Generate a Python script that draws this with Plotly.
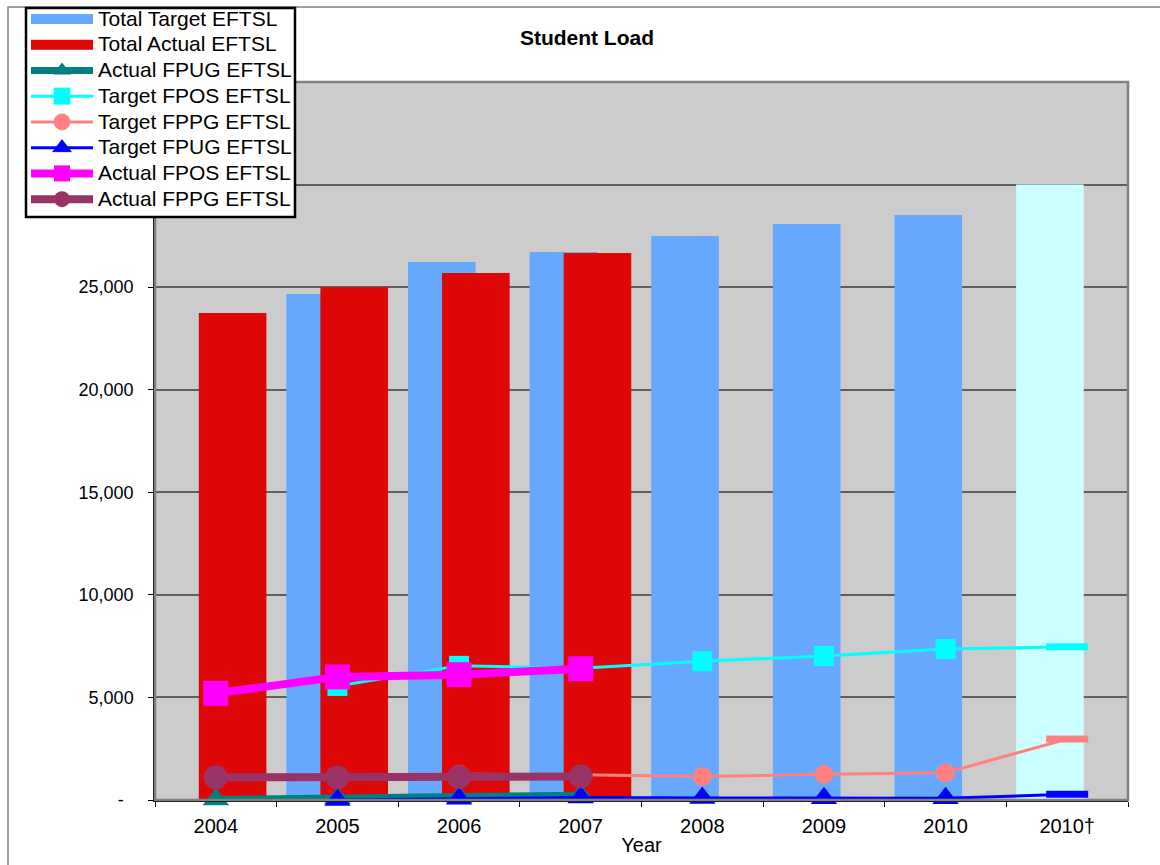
import plotly.graph_objects as go

# Student load (EFTSL) by year: totals as bars, breakdowns as lines
years = ["2004", "2005", "2006", "2007", "2008", "2009", "2010", "2010†"]

total_target = [None, 24670, 26230, 26710, 27490, 28080, 28520, 30000]
total_actual = [23740, 25000, 25690, 26670, None, None, None, None]

actual_fpug = [30, 80, 150, 230, None, None, None, None]
target_fpos = [None, 5560, 6540, 6420, 6760, 7020, 7360, 7470]
target_fppg = [None, 1150, 1250, 1230, 1140, 1250, 1330, 2970]
target_fpug = [None, 0, 60, 120, 100, 80, 80, 280]
actual_fpos = [5200, 6000, 6110, 6400, None, None, None, None]
actual_fppg = [1110, 1110, 1120, 1140, None, None, None, None]

y_ticks = [0, 5000, 10000, 15000, 20000, 25000, 30000, 35000]
# the two top labels sit under the legend box
y_tick_text = ["-\u00a0\u00a0", "5,000", "10,000", "15,000", "20,000", "25,000", "", ""]

C_TARGET = "#66A8FF"
C_TARGET_PROJ = "#CCFFFF"
C_ACTUAL = "#DD0806"
C_TEAL = "#008080"
C_CYAN = "#00FFFF"
C_SALMON = "#FF8080"
C_BLUE = "#0000FF"
C_MAGENTA = "#FF00FF"
C_PURPLE = "#993366"

FONT = "Liberation Sans, Arial, sans-serif"

# plot box in pixels (used only to place paper-referenced decorations)
W, H = 1160, 865
L, R, T, B = 155, 1128, 82, 800


def px_x(x):
    return (x - L) / (R - L)


def px_y(y):
    return (B - y) / (B - T)


def legend_label(text):
    # larger glyphs than the legend's row pitch font
    return '<span style="font-size:21px">' + text + "</span>"


fig = go.Figure()

bar_w = 0.556
target_colors = [C_TARGET] * (len(years) - 1) + [C_TARGET_PROJ]
fig.add_trace(go.Bar(
    x=years, y=total_target, name="Total Target EFTSL",
    marker=dict(color=target_colors, line=dict(width=0)),
    width=bar_w, offset=-0.42, showlegend=False,
))
fig.add_trace(go.Bar(
    x=years, y=total_actual, name="Total Actual EFTSL",
    marker=dict(color=C_ACTUAL, line=dict(width=0)),
    width=bar_w, offset=-0.14, showlegend=False,
))

# legend swatches for the bar series
for nm, col in [("Total Target EFTSL", C_TARGET), ("Total Actual EFTSL", C_ACTUAL)]:
    fig.add_trace(go.Scatter(
        x=[years[0]], y=[None], mode="lines", name=legend_label(nm),
        line=dict(color=col, width=13), hoverinfo="skip",
    ))


def series(vals, name, color, lw, symbol, msize, last_dash=True):
    symbols = [symbol] * len(vals)
    sizes = [msize] * len(vals)
    lwidths = [0] * len(vals)
    if last_dash:
        symbols[-1] = "line-ew"
        sizes[-1] = 30
        lwidths[-1] = 7
    return go.Scatter(
        x=years, y=vals, name=legend_label(name), mode="lines+markers",
        line=dict(color=color, width=lw),
        marker=dict(symbol=symbols, size=sizes, color=color, opacity=1,
                    line=dict(color=color, width=lwidths)),
        connectgaps=False, cliponaxis=False,
    )


fig.add_trace(series(actual_fpug, "Actual FPUG EFTSL", C_TEAL, 7, "triangle-up", 23, False))
fig.add_trace(series(target_fpos, "Target FPOS EFTSL", C_CYAN, 3, "square", 20))
fig.add_trace(series(target_fppg, "Target FPPG EFTSL", C_SALMON, 3, "circle", 19))
fig.add_trace(series(target_fpug, "Target FPUG EFTSL", C_BLUE, 3, "triangle-up", 23))
fig.add_trace(series(actual_fpos, "Actual FPOS EFTSL", C_MAGENTA, 8, "square", 25, False))
fig.add_trace(series(actual_fppg, "Actual FPPG EFTSL", C_PURPLE, 8, "circle", 24, False))

fig.update_layout(
    width=W, height=H,
    margin=dict(l=L, r=W - R, t=T, b=H - B, pad=0, autoexpand=False),
    paper_bgcolor="white",
    plot_bgcolor="#CCCCCC",
    barmode="overlay",
    font=dict(family=FONT, color="black", size=20),
    title=dict(text="<b>Student Load</b>", x=0.506, xref="container", xanchor="center",
               y=1 - 38 / H, yref="container", yanchor="middle",
               font=dict(family=FONT, size=21, color="black")),
    legend=dict(
        xref="paper", yref="paper",
        x=px_x(26), y=px_y(1), xanchor="left", yanchor="top",
        bgcolor="rgba(0,0,0,0)", borderwidth=0,
        font=dict(family=FONT, size=17.5, color="black"),
        itemwidth=62, tracegroupgap=0, traceorder="normal",
    ),
    showlegend=True,
)

fig.update_xaxes(
    type="category", categoryorder="array", categoryarray=years,
    range=[-0.5, len(years) - 0.5],
    showline=True, linecolor="black", linewidth=1.5,
    ticks="outside", tickson="boundaries", ticklen=5, tickcolor="black", tickwidth=1,
    tickfont=dict(family=FONT, size=20, color="black"),
    ticklabelstandoff=7,
    showgrid=False, zeroline=False,
    title=dict(text="Year", standoff=2, font=dict(family=FONT, size=20, color="black")),
)
fig.update_yaxes(
    range=[0, 35000],
    tickvals=y_ticks, ticktext=y_tick_text,
    showline=True, linecolor="black", linewidth=1.5,
    ticks="outside", ticklen=5, tickcolor="black", tickwidth=1,
    tickfont=dict(family=FONT, size=18, color="black"),
    ticklabelstandoff=11,
    showgrid=True, gridcolor="#5f5f5f", gridwidth=1.5,
    zeroline=False,
)

# plot-area frame, outer chart frame, and the legend's white box
fig.add_shape(type="rect", xref="paper", yref="paper", x0=0, x1=1, y0=0, y1=1,
              line=dict(color="#808080", width=2.5), layer="above")
fig.add_shape(type="rect", xref="paper", yref="paper",
              x0=px_x(8), x1=px_x(W + 20), y0=px_y(H + 20), y1=px_y(7),
              line=dict(color="#808080", width=1.5), layer="below")
fig.add_shape(type="rect", xref="paper", yref="paper",
              x0=px_x(26), x1=px_x(295), y0=px_y(217), y1=px_y(8),
              fillcolor="white", line=dict(color="black", width=2.5), layer="above")

fig.write_html("out.html")
